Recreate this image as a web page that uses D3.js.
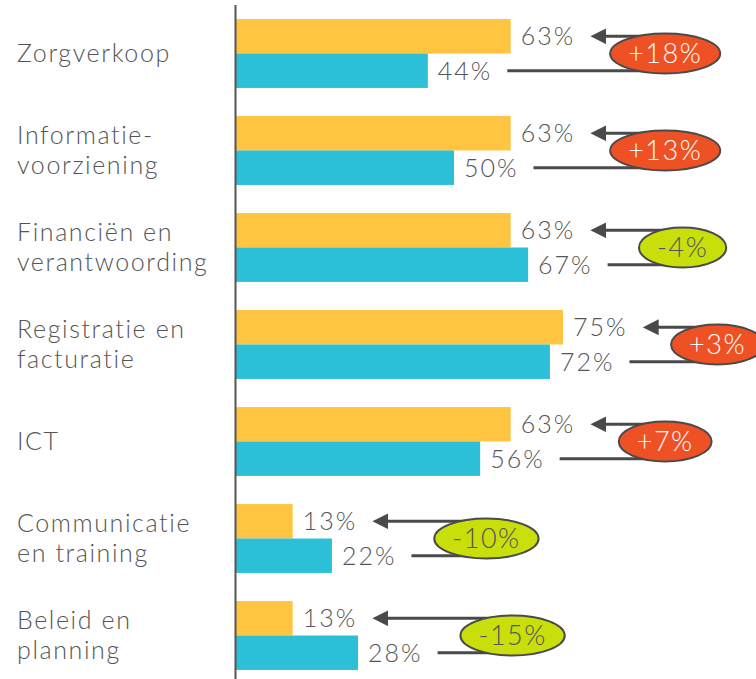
<!DOCTYPE html>
<html>
<head>
<meta charset="utf-8">
<script src="https://cdn.jsdelivr.net/npm/d3@7"></script>
<style>
  body { margin: 0; background: #fff; }
  svg text { font-family: Lato, "Open Sans", sans-serif; font-weight: 300; fill: #555; }
</style>
</head>
<body>
<svg id="chart" width="756" height="679"></svg>
<script>
// categories, two lines per label where the reference breaks them
const categories = [
  ["Zorgverkoop"],
  ["Informatie-", "voorziening"],
  ["Financiën en", "verantwoording"],
  ["Registratie en", "facturatie"],
  ["ICT"],
  ["Communicatie", "en training"],
  ["Beleid en", "planning"]
];
const current = [63, 63, 63, 75, 63, 13, 13];   // yellow
const previous = [44, 50, 67, 72, 56, 22, 28];  // blue
const deltas = ["+18%", "+13%", "-4%", "+3%", "+7%", "-10%", "-15%"];

const W = 756, H = 679;
const svg = d3.select("#chart");

const keys = categories.map(c => c.join(" "));
const y = d3.scaleBand().domain(keys).range([5, 684]).paddingInner(0.29).paddingOuter(0.145);
const ySub = d3.scaleBand().domain(["current", "previous"]).range([0, y.bandwidth()]);
const x = d3.scaleLinear().domain([0, 100]).range([236, 672]);

const colors = { current: "#FFC440", previous: "#2BBFD8" };
const badgeFill = { up: "#EE5124", down: "#C8DF0C" };
const ink = "#4a4a4a";

// arrow head, tip pointing along the line direction
svg.append("defs").append("marker")
  .attr("id", "head")
  .attr("viewBox", "0 0 10 10")
  .attr("refX", 7).attr("refY", 5)
  .attr("markerUnits", "userSpaceOnUse")
  .attr("markerWidth", 16).attr("markerHeight", 16)
  .attr("orient", "auto")
  .append("path").attr("d", "M0,0 L10,5 L0,10 Z").attr("fill", ink);

const rows = keys.map((k, i) => ({
  key: k, lines: categories[i], current: current[i], previous: previous[i], delta: deltas[i]
}));

// category labels
const cat = svg.append("g").selectAll("text").data(rows).join("text")
  .attr("x", 17)
  .attr("font-size", 25)
  .attr("letter-spacing", 1.6)
  .attr("y", d => y(d.key) + y.bandwidth() / 2 - (d.lines.length - 1) * 15 + 8.75);
cat.selectAll("tspan").data(d => d.lines).join("tspan")
  .attr("x", 17)
  .attr("dy", (d, i) => i ? 30 : 0)
  .text(d => d);

const groups = svg.append("g").selectAll("g").data(rows).join("g")
  .attr("transform", d => `translate(0,${y(d.key)})`);

["current", "previous"].forEach(s => {
  groups.append("rect")
    .attr("x", x(0))
    .attr("y", ySub(s))
    .attr("width", d => x(d[s]) - x(0))
    .attr("height", ySub.bandwidth())
    .attr("fill", colors[s]);
});

const ends = {};
["current", "previous"].forEach(s => {
  groups.append("text")
    .attr("class", "val-" + s)
    .attr("x", d => x(d[s]) + 10)
    .attr("y", ySub(s) + ySub.bandwidth() / 2)
    .attr("dy", "0.36em")
    .attr("font-size", 25)
    .attr("letter-spacing", 2)
    .text(d => d[s] + "%")
    .each(function(d) {
      ends[d.key] = ends[d.key] || {};
      ends[d.key][s] = x(d[s]) + 10 + this.getComputedTextLength();
    });
});

// arrows and change badges
groups.each(function(d) {
  const g = d3.select(this);
  const e = ends[d.key];
  const yc = ySub("current") + ySub.bandwidth() / 2;
  const yp = ySub("previous") + ySub.bandwidth() / 2;
  const cx = Math.max(e.current, e.previous) + 90;
  const cy = y.bandwidth() / 2;

  g.append("line")
    .attr("x1", cx).attr("y1", yc)
    .attr("x2", e.current + 20).attr("y2", yc)
    .attr("stroke", ink).attr("stroke-width", 3)
    .attr("marker-end", "url(#head)");
  g.append("line")
    .attr("x1", e.previous + 15).attr("y1", yp)
    .attr("x2", cx).attr("y2", yp)
    .attr("stroke", ink).attr("stroke-width", 3);

  const up = d.delta.startsWith("+");
  const ell = g.append("ellipse")
    .attr("cx", cx).attr("cy", cy)
    .attr("ry", 20)
    .attr("fill", up ? badgeFill.up : badgeFill.down)
    .attr("stroke", ink).attr("stroke-width", 2);
  const t = g.append("text")
    .attr("x", cx).attr("y", cy)
    .attr("dy", "0.36em")
    .attr("text-anchor", "middle")
    .attr("font-size", 27)
    .attr("letter-spacing", 1.5)
    .style("fill", up ? "#fff" : "#555")
    .text(d.delta);
  ell.attr("rx", t.node().getComputedTextLength() / 2 + 18);
});

// vertical axis line
svg.append("line")
  .attr("x1", x(0) - 0.5).attr("x2", x(0) - 0.5)
  .attr("y1", 5).attr("y2", H)
  .attr("stroke", "#555").attr("stroke-width", 2);
</script>
</body>
</html>
